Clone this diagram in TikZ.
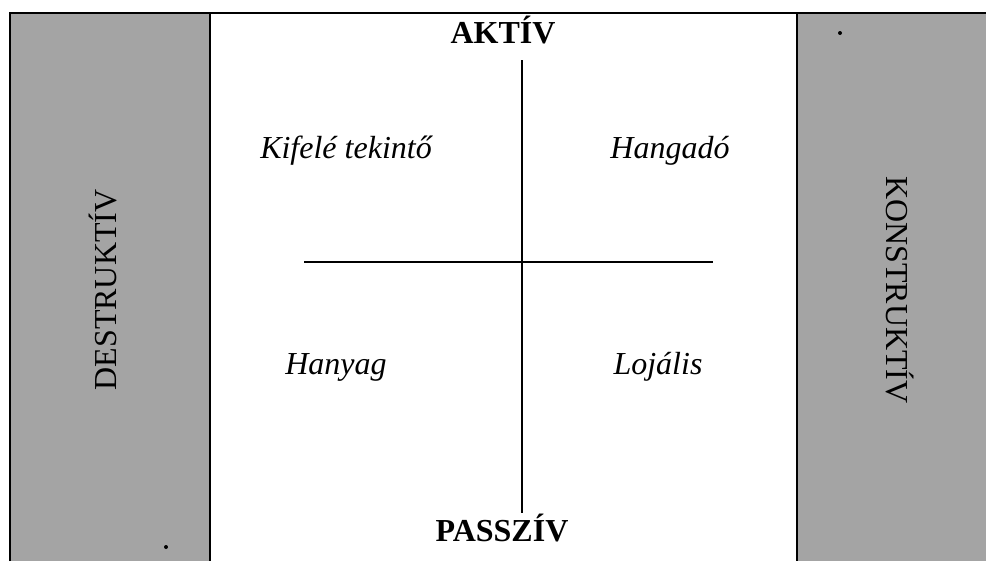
\documentclass[tikz,border=0pt]{standalone}
\usepackage{fontspec}
\setmainfont{Liberation Serif}
\usetikzlibrary{positioning}
\definecolor{panelgray}{RGB}{164,164,164}

\begin{document}
\begin{tikzpicture}[x=0.75pt, y=-0.75pt,
    frame/.style={line width=1.9pt},
    axis/.style={line width=1.2pt},
    pole/.style={font=\fontsize{24}{28}\selectfont\bfseries, inner sep=0pt, anchor=base},
    quad/.style={font=\fontsize{24}{28}\selectfont\itshape, inner sep=0pt, anchor=base},
    side/.style={font=\fontsize{24}{28}\selectfont, inner sep=0pt}]
    \useasboundingbox (0,0) rectangle (986,561);

    % side panels
    \fill[panelgray] (10,13) rectangle (210,561);
    \fill[panelgray] (797,13) rectangle (986,561);
    \draw[frame, line join=miter] (10,561) -- (10,13) -- (986,13);
    \draw[frame] (210,13) -- (210,561);
    \draw[frame] (797,13) -- (797,561);
    \node[side, rotate=90] (destr) at (103,290) {DESTRUKTÍV};
    \node[side, rotate=-90] (konstr) at (900,290) {KONSTRUKTÍV};

    % axes
    \coordinate (top) at (522,60);
    \coordinate (bottom) at (522,513);
    \coordinate (left) at (304,262);
    \coordinate (right) at (713,262);
    \draw[axis] (top) -- (bottom);
    \draw[axis] (left) -- (right);
    \node[pole] (aktiv) at (503,43) {AKTÍV};
    \node[pole] (passziv) at (502,541) {PASSZÍV};

    % quadrants
    \node[quad] (kifele) at (346,158) {Kifelé tekintő};
    \node[quad] (hangado) at (670,158) {Hangadó};
    \node[quad] (hanyag) at (336,374) {Hanyag};
    \node[quad] (lojalis) at (658,374) {Lojális};

    % stray dots
    \fill (840,33) circle (1.5pt);
    \fill (166,547) circle (1.5pt);
\end{tikzpicture}
\end{document}
